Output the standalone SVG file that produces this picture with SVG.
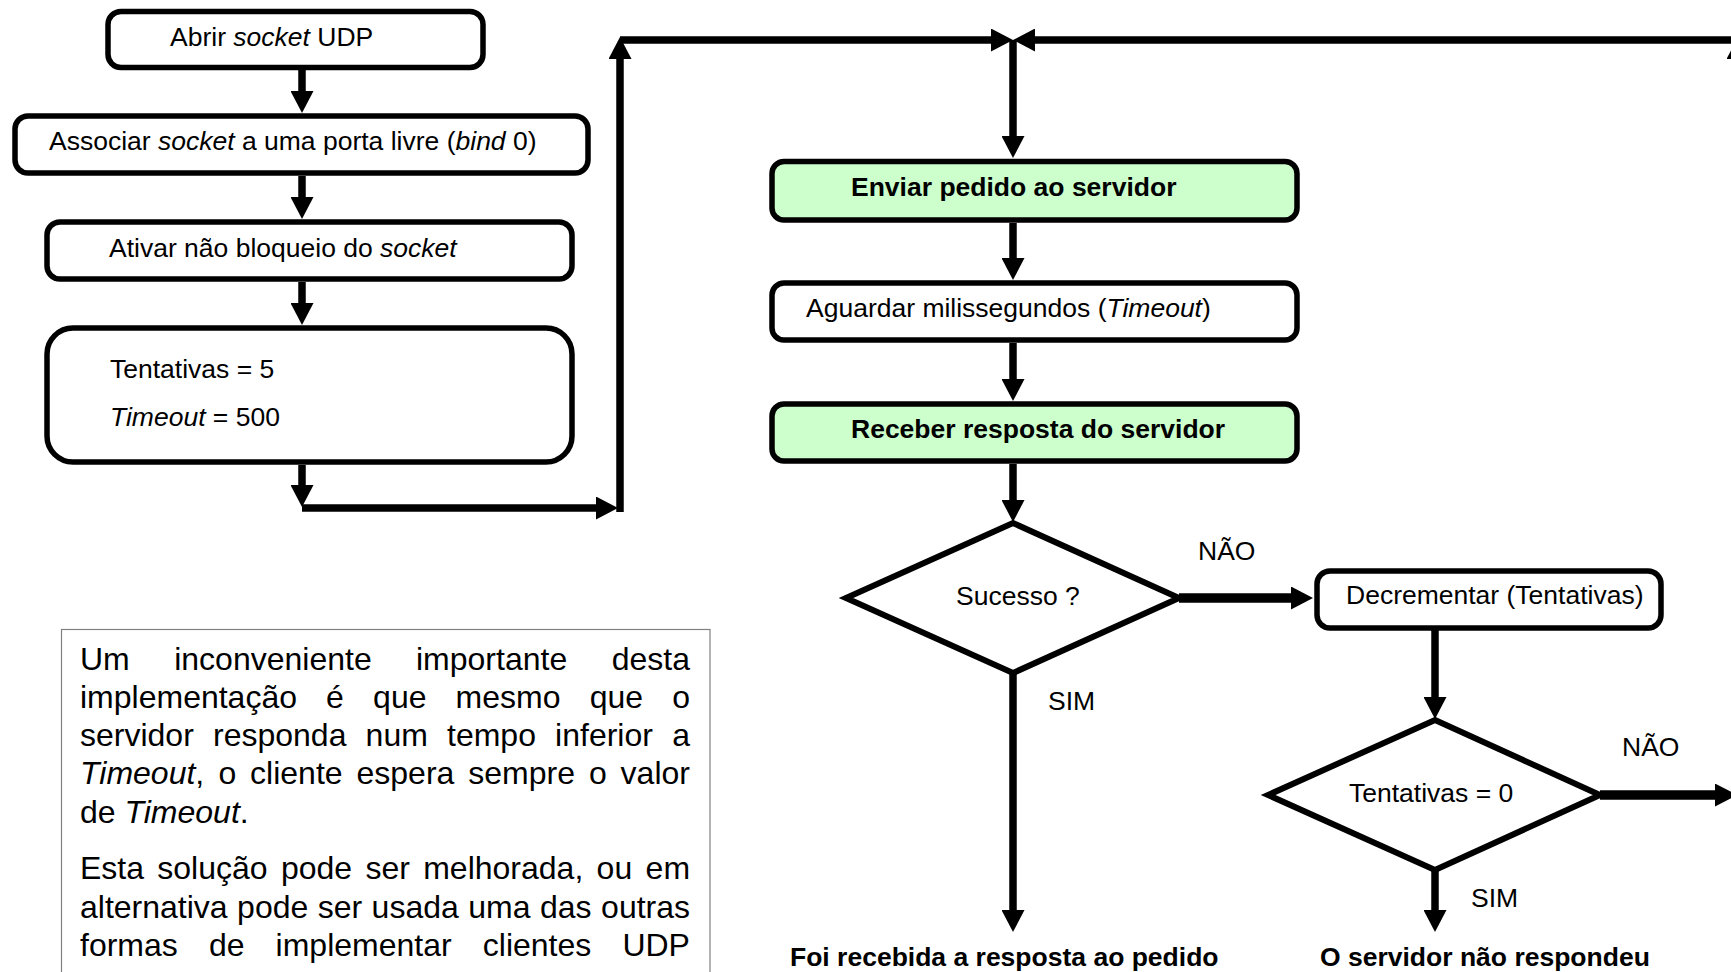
<svg xmlns="http://www.w3.org/2000/svg" width="1731" height="972" viewBox="0 0 1731 972">
  <style>
    text { font-family: "Liberation Sans", Arial, sans-serif; fill: #000; }
    .lbl { font-size: 26.5px; }
    .bold { font-weight: bold; }
    .it { font-style: italic; }
    .para { font-size: 32px; }
    .box { fill: #fff; stroke: #000; stroke-width: 5.5; }
    .green { fill: #ccffcc; }
    .dia { fill: #fff; stroke: #000; stroke-width: 6; stroke-linejoin: miter; }
    .note { fill: #fff; stroke: #808080; stroke-width: 1.2; }
    .wire { fill: none; stroke: #000; stroke-width: 7.5; stroke-linecap: butt; marker-end: url(#ah); }
    .wire.heavy { stroke-width: 9.5; }
  </style>
  <defs>
    <marker id="ah" viewBox="0 0 22 23" markerUnits="userSpaceOnUse" markerWidth="22" markerHeight="23" refX="1" refY="11.5" orient="auto">
      <path d="M0,0 L22,11.5 L0,23 z" fill="#000"/>
    </marker>
  </defs>

  <rect width="1731" height="972" fill="#fff"/>

  <!-- connectors -->
  <g id="connectors">
    <path class="wire" d="M302,70 V92"/>
    <path class="wire" d="M302,176 V198"/>
    <path class="wire" d="M302,282 V304"/>
    <path class="wire" d="M302,465 V486"/>
    <path class="wire" d="M302,508 H597"/>
    <path class="wire" d="M620,512 V58"/>
    <path class="wire" d="M620,40 H992"/>
    <path class="wire" d="M1750,40 H1034"/>
    <path class="wire" d="M1013,40 V137"/>
    <path class="wire" d="M1013,223 V259"/>
    <path class="wire" d="M1013,343 V380"/>
    <path class="wire" d="M1013,464 V501"/>
    <path class="wire heavy" d="M1179,598 H1292"/>
    <path class="wire" d="M1435,630 V698"/>
    <path class="wire heavy" d="M1600,795 H1716"/>
    <path class="wire" d="M1738,800 V58"/>
    <path class="wire" d="M1013,673 V911"/>
    <path class="wire" d="M1435,870 V911"/>
  </g>

  <!-- setup steps -->
  <g id="open-socket">
    <rect class="box" x="108" y="11.5" width="375" height="56" rx="13"/>
    <text class="lbl" x="170" y="46">Abrir <tspan class="it">socket</tspan> UDP</text>
  </g>
  <g id="bind-socket">
    <rect class="box" x="15" y="116" width="573" height="57" rx="13"/>
    <text class="lbl" x="49" y="150">Associar <tspan class="it">socket</tspan> a uma porta livre (<tspan class="it">bind</tspan> 0)</text>
  </g>
  <g id="nonblocking">
    <rect class="box" x="47" y="222" width="525" height="57" rx="13"/>
    <text class="lbl" x="109" y="257">Ativar não bloqueio do <tspan class="it">socket</tspan></text>
  </g>
  <g id="init-vars">
    <rect class="box" x="47" y="328" width="525" height="134" rx="26"/>
    <text class="lbl" x="110" y="378">Tentativas = 5</text>
    <text class="lbl" x="110" y="426"><tspan class="it">Timeout</tspan> = 500</text>
  </g>

  <!-- request loop -->
  <g id="send-request">
    <rect class="box green" x="772" y="161.5" width="525" height="58.5" rx="12"/>
    <text class="lbl bold" x="851" y="196">Enviar pedido ao servidor</text>
  </g>
  <g id="wait-timeout">
    <rect class="box" x="772" y="283" width="525" height="57" rx="12"/>
    <text class="lbl" x="806" y="317">Aguardar milissegundos (<tspan class="it">Timeout</tspan>)</text>
  </g>
  <g id="receive-reply">
    <rect class="box green" x="772" y="404" width="525" height="57" rx="12"/>
    <text class="lbl bold" x="851" y="438">Receber resposta do servidor</text>
  </g>
  <g id="success-check">
    <polygon class="dia" points="1013,523 1179,598 1013,673 846,598"/>
    <text class="lbl" x="956" y="605">Sucesso ?</text>
  </g>
  <g id="decrement">
    <rect class="box" x="1317" y="571" width="344" height="57" rx="13"/>
    <text class="lbl" x="1346" y="604">Decrementar (Tentativas)</text>
  </g>
  <g id="retries-check">
    <polygon class="dia" points="1435,720 1600,795 1435,870 1268,795"/>
    <text class="lbl" x="1349" y="802">Tentativas = 0</text>
  </g>

  <!-- branch labels -->
  <g id="branch-labels">
    <text class="lbl" x="1198" y="560">NÃO</text>
    <text class="lbl" x="1048" y="710">SIM</text>
    <text class="lbl" x="1622" y="756">NÃO</text>
    <text class="lbl" x="1471" y="907">SIM</text>
  </g>

  <!-- outcomes -->
  <g id="reply-received">
    <text class="lbl bold" x="790" y="966">Foi recebida a resposta ao pedido</text>
  </g>
  <g id="no-reply">
    <text class="lbl bold" x="1320" y="966">O servidor não respondeu</text>
  </g>

  <!-- note box with justified text -->
  <g id="note">
    <rect class="note" x="61.5" y="629.5" width="648.5" height="400"/>
    <text class="para" y="670"><tspan x="80">Um</tspan><tspan x="174.2">inconveniente</tspan><tspan x="416">importante</tspan><tspan x="611.7">desta</tspan></text>
    <text class="para" y="708"><tspan x="80">implementação</tspan><tspan x="326.1">é</tspan><tspan x="373.1">que</tspan><tspan x="455.6">mesmo</tspan><tspan x="589.7">que</tspan><tspan x="672.2">o</tspan></text>
    <text class="para" y="746"><tspan x="80">servidor</tspan><tspan x="213">responda</tspan><tspan x="365.6">num</tspan><tspan x="447">tempo</tspan><tspan x="555.1">inferior</tspan><tspan x="672.2">a</tspan></text>
    <text class="para" y="784"><tspan x="80" class="it">Timeout</tspan><tspan>,</tspan><tspan x="218.4">o</tspan><tspan x="250.1">cliente</tspan><tspan x="356.5">espera</tspan><tspan x="468.3">sempre</tspan><tspan x="588.9">o</tspan><tspan x="620.6">valor</tspan></text>
    <text class="para" x="80" y="823">de <tspan class="it">Timeout</tspan>.</text>
    <text class="para" y="879"><tspan x="80">Esta</tspan><tspan x="157.3">solução</tspan><tspan x="280.9">pode</tspan><tspan x="365.4">ser</tspan><tspan x="423.2">melhorada,</tspan><tspan x="596.6">ou</tspan><tspan x="645.6">em</tspan></text>
    <text class="para" y="918"><tspan x="80">alternativa</tspan><tspan x="237.1">pode</tspan><tspan x="317.7">ser</tspan><tspan x="371.6">usada</tspan><tspan x="468.3">uma</tspan><tspan x="540">das</tspan><tspan x="601.1">outras</tspan></text>
    <text class="para" y="956"><tspan x="80">formas</tspan><tspan x="208.9">de</tspan><tspan x="275.6">implementar</tspan><tspan x="482.8">clientes</tspan><tspan x="622.4">UDP</tspan></text>
  </g>
</svg>
